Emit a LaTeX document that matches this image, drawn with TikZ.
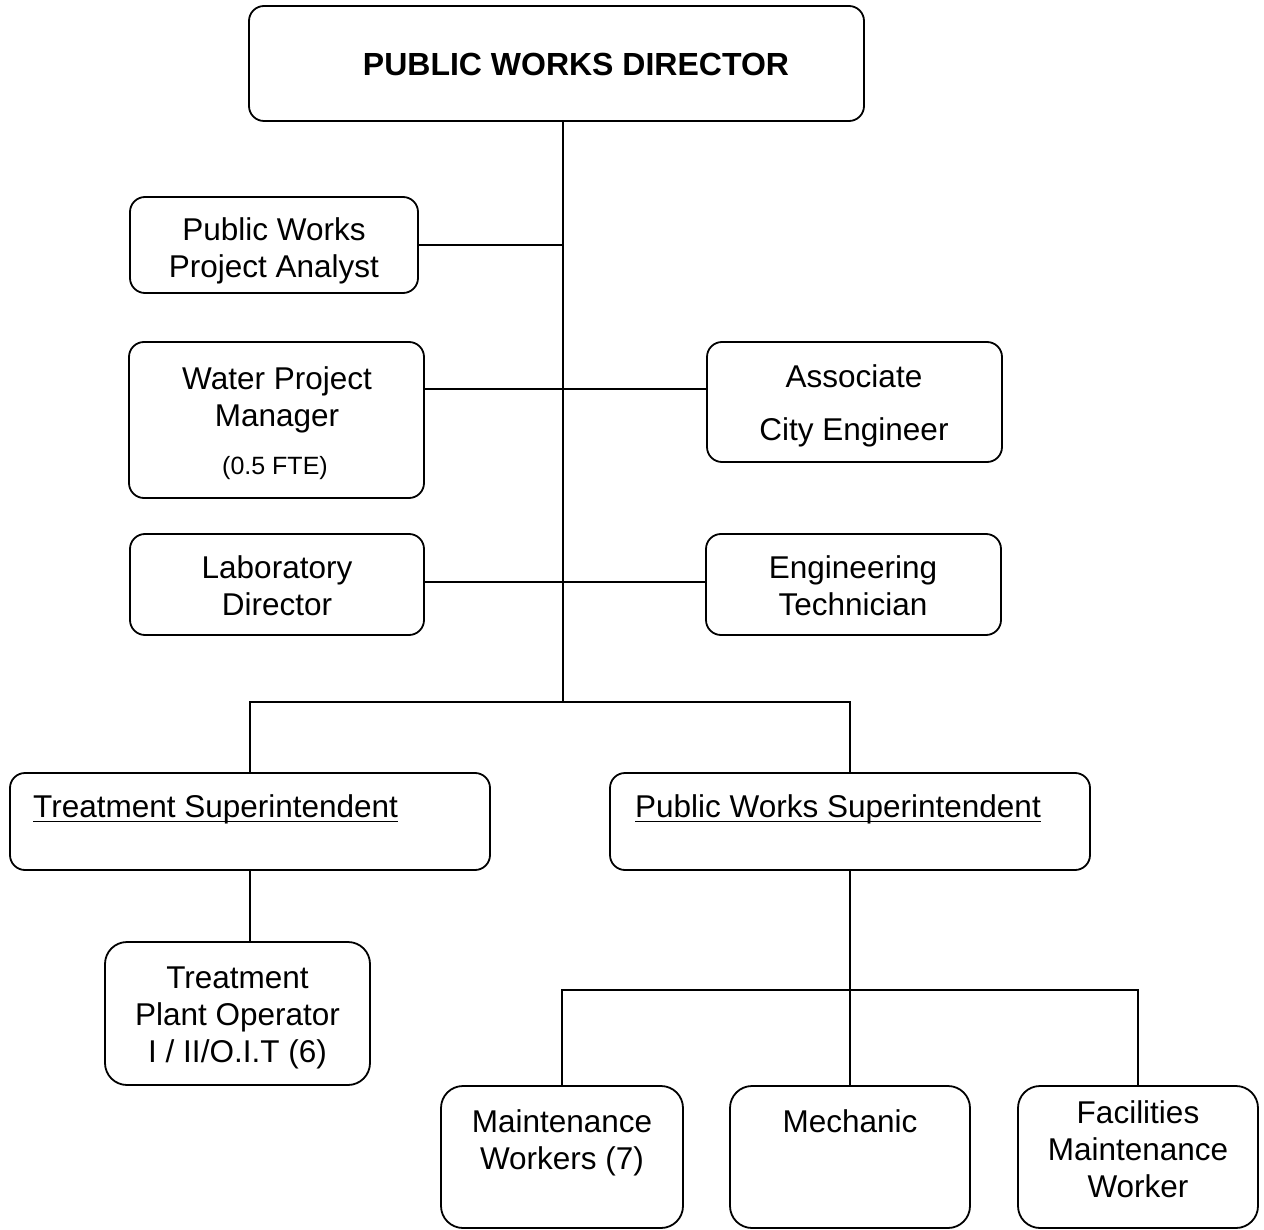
\documentclass[tikz,border=0pt]{standalone}
\usepackage{fontspec}
\setmainfont{Liberation Sans}
\begin{document}
\tikzset{
  box/.style={draw, line width=1.8pt, rounded corners=15pt, inner sep=0pt, outer sep=0pt},
  bigbox/.style={box, rounded corners=22pt},
  txt/.style={inner sep=0pt, anchor=base, font=\fontsize{31.5}{37}\selectfont},
  smalltxt/.style={inner sep=0pt, anchor=base, font=\fontsize{25}{30}\selectfont},
  titletxt/.style={inner sep=0pt, anchor=base, font=\fontsize{32}{38}\selectfont\bfseries},
  conn/.style={line width=1.8pt},
  uline/.style={line width=1.6pt},
}
\begin{tikzpicture}[x=1pt,y=-1pt]
\useasboundingbox (0,0) rectangle (1264,1230);
% boxes
\node[box, minimum width=615pt, minimum height=115pt] (dir) at (556.5,63.5) {};
\node[box, minimum width=288pt, minimum height=96pt] (an) at (274,245) {};
\node[box, minimum width=295pt, minimum height=156pt] (wpm) at (276.5,420) {};
\node[box, minimum width=295pt, minimum height=120pt] (ace) at (854.5,402) {};
\node[box, minimum width=294pt, minimum height=101pt] (ld) at (277,584.5) {};
\node[box, minimum width=295pt, minimum height=101pt] (et) at (853.5,584.5) {};
\node[box, minimum width=480pt, minimum height=97pt] (ts) at (250,821.5) {};
\node[box, minimum width=480pt, minimum height=97pt] (pws) at (850,821.5) {};
\node[bigbox, minimum width=265pt, minimum height=143pt] (op) at (237.5,1013.5) {};
\node[bigbox, minimum width=242pt, minimum height=142pt] (mw) at (562,1157) {};
\node[bigbox, minimum width=240pt, minimum height=142pt] (mech) at (850,1157) {};
\node[bigbox, minimum width=240pt, minimum height=142pt] (fmw) at (1138,1157) {};
% texts
\node[titletxt] (dirT) at (576,76) {PUBLIC WORKS DIRECTOR};
\node[txt] (anT1) at (274,241) {Public Works};
\node[txt] (anT2) at (274,278) {Project Analyst};
\node[txt] (wpmT1) at (277,390) {Water Project};
\node[txt] (wpmT2) at (277,427) {Manager};
\node[smalltxt] (wpmT3) at (275,474) {(0.5 FTE)};
\node[txt] (aceT1) at (854,388) {Associate};
\node[txt] (aceT2) at (854,441) {City Engineer};
\node[txt] (ldT1) at (277,578) {Laboratory};
\node[txt] (ldT2) at (277,615) {Director};
\node[txt] (etT1) at (853,578) {Engineering};
\node[txt] (etT2) at (853,615) {Technician};
\node[txt, anchor=base west] (tsT) at (33,817) {Treatment Superintendent};
\node[txt, anchor=base west] (pwsT) at (635,817) {Public Works Superintendent};
\node[txt] (opT1) at (237.5,988) {Treatment};
\node[txt] (opT2) at (237.5,1025) {Plant Operator};
\node[txt] (opT3) at (237.5,1062) {I / II/O.I.T (6)};
\node[txt] (mwT1) at (562,1132) {Maintenance};
\node[txt] (mwT2) at (562,1169) {Workers (7)};
\node[txt] (mechT) at (850,1132) {Mechanic};
\node[txt] (fmwT1) at (1138,1123) {Facilities};
\node[txt] (fmwT2) at (1138,1160) {Maintenance};
\node[txt] (fmwT3) at (1138,1197) {Worker};
% underlines
\draw[uline] ([yshift=-4.5pt]tsT.base west) -- ([yshift=-4.5pt]tsT.base east);
\draw[uline] ([yshift=-4.5pt]pwsT.base west) -- ([yshift=-4.5pt]pwsT.base east);
% connector coordinates
\coordinate (trunk) at (563,702);
\coordinate (r1) at (563,389);
\coordinate (r2) at (563,582);
\coordinate (bus2) at (850,990);
% connectors
\draw[conn] (dir.south -| trunk) -- (trunk);
\draw[conn] (an.east) -- (an.east -| trunk);
\draw[conn] (wpm.east |- r1) -- (ace.west |- r1);
\draw[conn] (ld.east |- r2) -- (et.west |- r2);
\draw[conn] (ts.north) -- (ts.north |- trunk) -- (pws.north |- trunk) -- (pws.north);
\draw[conn] (ts.south) -- (ts.south |- op.north);
\draw[conn] (pws.south) -- (bus2);
\draw[conn] (mw.north) -- (mw.north |- bus2) -- (fmw.north |- bus2) -- (fmw.north);
\draw[conn] (bus2) -- (mech.north);
\end{tikzpicture}
\end{document}
